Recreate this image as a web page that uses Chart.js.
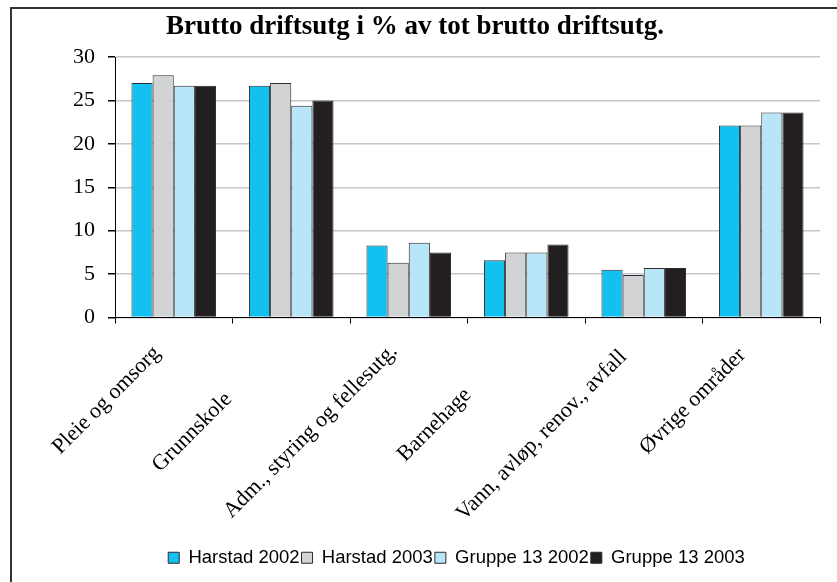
<!DOCTYPE html>
<html>
<head>
<meta charset="utf-8">
<script src="https://cdn.jsdelivr.net/npm/chart.js@4.4.1/dist/chart.umd.min.js"></script>
<style>
  html, body { margin: 0; padding: 0; background: #fff; }
  #wrap { position: absolute; left: 0; top: 0; width: 837px; height: 582px; }
</style>
</head>
<body>
<div id="wrap"><canvas id="c" width="837" height="582"></canvas></div>
<script>
const categories = ['Pleie og omsorg', 'Grunnskole', 'Adm., styring og fellesutg.', 'Barnehage', 'Vann, avløp, renov., avfall', 'Øvrige områder'];
const seriesNames = ['Harstad 2002', 'Harstad 2003', 'Gruppe 13 2002', 'Gruppe 13 2003'];
const harstad2002 = [27.0, 26.7, 8.3, 6.6, 5.5, 22.1];
const harstad2003 = [27.9, 27.0, 6.3, 7.5, 4.9, 22.1];
const gruppe2002 = [26.7, 24.4, 8.6, 7.5, 5.7, 23.6];
const gruppe2003 = [26.7, 25.0, 7.5, 8.4, 5.7, 23.6];
const yTicks = [0, 5, 10, 15, 20, 25, 30];
const chartTitle = 'Brutto driftsutg i % av tot brutto driftsutg.';

const colors = ['#13c1f1', '#d1d3d4', '#b9e5f9', '#231f20'];
const allSeries = [harstad2002, harstad2003, gruppe2002, gruppe2003];
// layout only: how far each rotated category label slides down along its 45° line
const labelSlide = [3, 68, 0, 62, 8, 6];
const xLabelFont = { family: '"Liberation Serif", "Times New Roman", serif', size: 22 };

const borderPlugin = {
  id: 'outerBorder',
  beforeDraw(chart) {
    const ctx = chart.ctx;
    ctx.save();
    ctx.fillStyle = '#ffffff';
    ctx.fillRect(0, 0, chart.width, chart.height);
    ctx.strokeStyle = '#333333';
    ctx.lineWidth = 2;
    ctx.beginPath();
    ctx.moveTo(11, 582);
    ctx.lineTo(11, 8);
    ctx.lineTo(837, 8);
    ctx.stroke();
    ctx.restore();
  }
};

const legendShift = {
  id: 'legendShift',
  afterLayout(chart) {
    const lg = chart.legend;
    if (lg) { lg.left -= 11; lg.right -= 11; }
  }
};

// Category labels, rotated 45°, placed from the x scale's own tick pixels
const xLabels = {
  id: 'xLabels',
  afterDraw(chart) {
    const sc = chart.scales.x;
    const ctx = chart.ctx;
    const lh = xLabelFont.size * 1.2;
    ctx.save();
    ctx.fillStyle = '#000';
    ctx.font = xLabelFont.size + 'px ' + xLabelFont.family;
    ctx.textAlign = 'right';
    ctx.textBaseline = 'middle';
    const k = Math.SQRT1_2;
    categories.forEach((lab, i) => {
      const d = labelSlide[i];
      const x0 = sc.getPixelForValue(i) - 24 - d * k;
      const y0 = sc.top + 6 + 15 + d * k;
      ctx.save();
      ctx.translate(x0, y0);
      ctx.rotate(-Math.PI / 4);
      ctx.fillText(lab, 0, lh / 2);
      ctx.restore();
    });
    ctx.restore();
  }
};

new Chart(document.getElementById('c'), {
  type: 'bar',
  data: {
    labels: categories,
    datasets: seriesNames.map((name, i) => ({
      label: name,
      data: allSeries[i],
      backgroundColor: colors[i],
      borderColor: '#2b2b2b',
      borderWidth: 1,
      categoryPercentage: 0.72,
      barPercentage: 1.0
    }))
  },
  options: {
    responsive: false,
    animation: false,
    devicePixelRatio: 1,
    layout: { padding: { left: 10, right: 17, top: 0, bottom: 5 } },
    plugins: {
      title: {
        display: true,
        text: chartTitle,
        color: '#000',
        font: { family: '"Liberation Serif", "Times New Roman", serif', size: 27, weight: 'bold' },
        padding: { top: 11, bottom: 13.6 }
      },
      legend: {
        position: 'bottom',
        fullSize: false,
        labels: {
          color: '#000',
          font: { family: '"Liberation Sans", Arial, sans-serif', size: 18.5 },
          boxWidth: 11,
          boxHeight: 11,
          padding: 2
        }
      },
      tooltip: { enabled: false }
    },
    scales: {
      x: {
        grid: { offset: true, drawOnChartArea: false, tickLength: 6, tickColor: '#000', lineWidth: 1 },
        border: { color: '#000', width: 1 },
        ticks: { display: false, autoSkip: false },
        afterFit(scale) { scale.height = 229; }
      },
      y: {
        min: 0, max: 30,
        afterBuildTicks(scale) { scale.ticks = yTicks.map(v => ({ value: v })); },
        grid: { color: '#c6c6ce', lineWidth: 1.5, tickLength: 7, tickColor: '#000' },
        border: { color: '#000', width: 1 },
        ticks: {
          color: '#000',
          font: { family: '"Liberation Serif", "Times New Roman", serif', size: 22 },
          padding: 13
        },
        afterFit(scale) { scale.width = 105; }
      }
    }
  },
  plugins: [borderPlugin, legendShift, xLabels]
});
</script>
</body>
</html>
